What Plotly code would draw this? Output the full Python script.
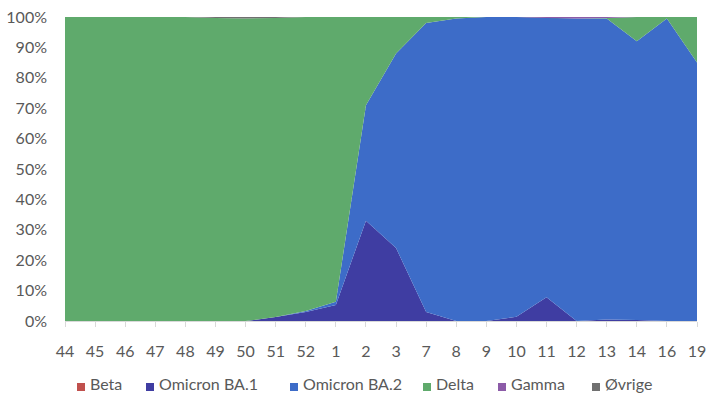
import plotly.graph_objects as go

weeks = ["44", "45", "46", "47", "48", "49", "50", "51", "52", "1", "2", "3",
         "7", "8", "9", "10", "11", "12", "13", "14", "16", "19"]

beta = [0, 0, 0, 0, 0, 0, 0, 0, 0, 0, 0, 0, 0, 0, 0, 0, 0, 0, 0, 0, 0, 0]
omicron_ba1 = [0, 0, 0, 0, 0, 0, 0, 1.3, 3, 5.3, 33, 24, 3, 0, 0, 1.4, 7.8, 0, 0.5, 0.3, 0, 0]
omicron_ba2 = [0, 0, 0, 0, 0, 0, 0, 0, 0.3, 1, 38, 64, 95, 99.5, 100, 98.6, 91.9, 99.5, 99, 91.7, 99.5, 85]
delta = [100, 100, 100, 100, 100, 99.7, 99.5, 98.4, 96.7, 93.7, 29, 12, 2, 0.5, 0, 0, 0, 0, 0.2, 8, 0.5, 15]
gamma = [0, 0, 0, 0, 0, 0, 0, 0, 0, 0, 0, 0, 0, 0, 0, 0, 0.3, 0.5, 0.3, 0, 0, 0]
ovrige = [0, 0, 0, 0, 0, 0.3, 0.5, 0.3, 0, 0, 0, 0, 0, 0, 0, 0, 0, 0, 0, 0, 0, 0]

series = [
    ("Beta", beta, "#C0504D"),
    ("Omicron BA.1", omicron_ba1, "#3F3DA2"),
    ("Omicron BA.2", omicron_ba2, "#3D6CC8"),
    ("Delta", delta, "#5FAA6C"),
    ("Gamma", gamma, "#8C5BA8"),
    ("Øvrige", ovrige, "#707070"),
]

# legend key left edges (px from left of the page)
legend_x = [77, 146, 290, 423, 498, 592]

W, H = 711, 394
ML, MR, MT, MB = 65, 14, 17, 73
PW, PH = W - ML - MR, H - MT - MB

FONT = "Lato"
GREY = "#595959"

fig = go.Figure()
# stacked 100% areas
for name, vals, col in series:
    fig.add_trace(go.Scatter(
        x=weeks, y=vals, name=name, mode="lines",
        stackgroup="one", groupnorm="percent",
        line=dict(width=0, color=col), fillcolor=col,
        showlegend=False,
    ))

# legend below the plot: square key + label
def px_x(p):
    return (p - ML) / PW

def px_y(p):
    return (H - MB - p) / PH

for (name, _, col), lx in zip(series, legend_x):
    fig.add_shape(type="rect", xref="paper", yref="paper",
                  x0=px_x(lx), x1=px_x(lx + 8), y0=px_y(391), y1=px_y(383),
                  fillcolor=col, line=dict(width=0))
    fig.add_annotation(xref="paper", yref="paper", x=px_x(lx + 12), y=px_y(383),
                       xanchor="left", yanchor="middle", showarrow=False,
                       borderpad=0, text=name,
                       font=dict(family=FONT, size=16, color=GREY))

fig.update_layout(
    width=W, height=H,
    margin=dict(l=ML, r=MR, t=MT, b=MB, autoexpand=False),
    paper_bgcolor="white", plot_bgcolor="white",
    font=dict(family=FONT, size=16, color=GREY),
    showlegend=False,
    hovermode=False,
)
fig.update_xaxes(
    type="category", range=[0, len(weeks) - 1],
    showline=True, linecolor="#D9D9D9", linewidth=1,
    ticks="outside", ticklen=5, tickcolor="#D9D9D9",
    showgrid=False, tickfont=dict(size=16, color=GREY),
    ticklabelstandoff=11,
)
fig.update_yaxes(
    range=[0, 100], dtick=10, ticksuffix="%",
    showgrid=True, gridcolor="#D9D9D9", zeroline=False,
    showline=False, ticks="", ticklabelstandoff=17,
    tickfont=dict(size=16, color=GREY),
)

fig.write_html("out.html")
